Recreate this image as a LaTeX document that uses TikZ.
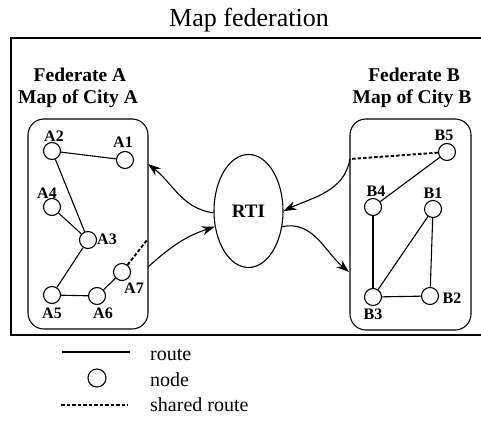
\documentclass[tikz,border=0pt]{standalone}
\usepackage{fontspec}
\setmainfont{Liberation Serif}
\usetikzlibrary{arrows.meta,shapes.geometric}
\begin{document}
\begin{tikzpicture}[x=1pt,y=-1pt,
  ln/.style={line width=1.1pt},
  frm/.style={line width=1.1pt},
  box/.style={draw,line width=1.1pt,rounded corners=16pt,inner sep=0pt},
  city/.style={draw,circle,line width=1.1pt,minimum size=17pt,inner sep=0pt},
  lab/.style={font=\bfseries\fontsize{16}{16}\selectfont,inner sep=0pt},
  head/.style={font=\bfseries\fontsize{19.5}{19.5}\selectfont,inner sep=0pt},
  shared/.style={line width=1.9pt,dash pattern=on 3.5pt off 2pt},
  arr/.style={line width=1.1pt,-{Stealth[length=13pt,width=9pt]}},
  leg/.style={font=\fontsize{20}{20}\selectfont,inner sep=0pt,anchor=west}]
\useasboundingbox (0,0) rectangle (481,423);
% title
\node[font=\fontsize{26}{26}\selectfont,inner sep=0pt] (title) at (249,20) {Map federation};
% outer frame
\draw[frm] (495,38) -- (11,38) -- (11,335) -- (495,335);
% headings
\node[head] (hA1) at (80,75) {Federate A};
\node[head] (hA2) at (78,99) {Map of City A};
\node[head] (hB1) at (414,75) {Federate B};
\node[head] (hB2) at (412,99) {Map of City B};
% boxes
\node[box,minimum width=120pt,minimum height=210pt] (boxA) at (88,224) {};
\node[box,minimum width=121pt,minimum height=211pt] (boxB) at (410.5,224.5) {};
% RTI
\node[draw,ellipse,line width=1.1pt,minimum width=69pt,minimum height=113pt,inner sep=0pt,
  font=\bfseries\fontsize{19}{19}\selectfont] (rti) at (248.5,211) {RTI};
% city A nodes
\node[city] (A1) at (125,160) {};
\node[city] (A2) at (52,151) {};
\node[city] (A3) at (88,240) {};
\node[city] (A4) at (52,207) {};
\node[city] (A5) at (52,295) {};
\node[city] (A6) at (97,296) {};
\node[city] (A7) at (122,272) {};
\node[lab] (lA1) at (123,142) {A1};
\node[lab] (lA2) at (54,136) {A2};
\node[lab] (lA3) at (107,239) {A3};
\node[lab] (lA4) at (47,193) {A4};
\node[lab] (lA5) at (52,313) {A5};
\node[lab] (lA6) at (103,313) {A6};
\node[lab] (lA7) at (134,288) {A7};
\draw[ln] (A2) -- (A1);
\draw[ln] (A2) -- (A3);
\draw[ln] (A4) -- (A3);
\draw[ln] (A3) -- (A5);
\draw[ln] (A5) -- (A6);
\draw[ln] (A6) -- (A7);
\coordinate (sA) at (147,240);
\draw[shared] (A7) -- (sA);
% city B nodes
\node[city] (B1) at (433,209) {};
\node[city] (B2) at (430,296) {};
\node[city] (B3) at (373,297) {};
\node[city] (B4) at (373,207) {};
\node[city] (B5) at (447,152) {};
\node[lab] (lB1) at (433,193) {B1};
\node[lab] (lB2) at (452,298) {B2};
\node[lab] (lB3) at (373,314) {B3};
\node[lab] (lB4) at (376,191) {B4};
\node[lab] (lB5) at (444,135) {B5};
\draw[ln] (B5) -- (B4);
\draw[ln] (B4) -- (B3);
\draw[ln] (B3) -- (B1);
\draw[ln] (B1) -- (B2);
\draw[ln] (B3) -- (B2);
\coordinate (sB) at (350,159);
\draw[shared] (B5) -- (sB);
% arrows
\coordinate (aA1) at (148,164);
\coordinate (aA2) at (148,267);
\coordinate (aB2) at (349,272);
\draw[arr] (rti.183) to[out=172,in=-38] (aA1);
\draw[arr] (aA2) to[out=42,in=198] (rti.205);
\draw[arr] (sB) to[out=-100,in=25] (rti.east);
\draw[arr] (rti.-25) to[out=12,in=140] (aB2);
% legend
\coordinate (l1a) at (62,352);
\coordinate (l1b) at (130,352);
\draw[ln] (l1a) -- (l1b);
\node[city,minimum size=18pt] (lc) at (97,378) {};
\coordinate (l3a) at (61,405);
\coordinate (l3b) at (128,405);
\draw[shared] (l3a) -- (l3b);
\node[leg] (t1) at (150,355) {route};
\node[leg] (t2) at (150,380) {node};
\node[leg] (t3) at (150,405) {shared route};
\end{tikzpicture}
\end{document}
